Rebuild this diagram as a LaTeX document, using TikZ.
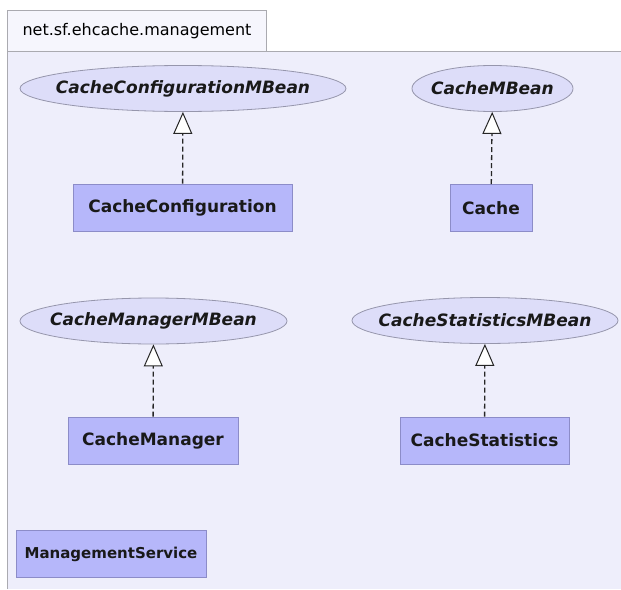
\documentclass[tikz,border=0pt]{standalone}
\usepackage{fontspec}
\setmainfont{DejaVu Sans}
\usetikzlibrary{shapes.geometric,arrows.meta}

\definecolor{pkgback}{RGB}{238,238,251}
\definecolor{pkgtab}{RGB}{246,246,253}
\definecolor{pkgline}{RGB}{170,170,176}
\definecolor{ifacefill}{RGB}{221,221,249}
\definecolor{ifaceline}{RGB}{150,150,172}
\definecolor{clsfill}{RGB}{182,183,250}
\definecolor{clsline}{RGB}{140,140,200}

% keeps the ellipse as wide as asked, not as wide as its text
\newcommand{\ifname}[1]{\makebox[0pt]{#1}}

\tikzset{
  iface/.style={ellipse, draw=ifaceline, fill=ifacefill, line width=0.8pt,
    minimum width=#1, minimum height=46, inner sep=2pt,
    font=\fontsize{17}{20}\selectfont\bfseries\itshape, text=black!90},
  cls/.style={rectangle, draw=clsline, fill=clsfill, line width=0.8pt,
    minimum width=#1, minimum height=47, inner sep=0pt,
    font=\fontsize{17}{20}\selectfont\bfseries, text=black!90},
  realize/.style={draw=black!85, line width=1.3pt, dash pattern=on 5pt off 3pt,
    -{Triangle[open, length=22pt, width=19pt, line width=1pt, fill=white]}}
}

\begin{document}
\begin{tikzpicture}[x=1pt, y=-1pt]
                \useasboundingbox (0,0) rectangle (621,589);
                % Package frame
                \fill[white] (0,0) rectangle (621,589);
                \fill[pkgback] (7,51) rectangle (621,589);
                \draw[pkgline, line width=1pt] (7,589) -- (7,51) -- (621,51);
                \node[draw=pkgline, fill=pkgtab, line width=1pt, minimum width=259, minimum height=41,
                  font=\fontsize{16}{18}\selectfont, anchor=north west] (pkg) at (7,10) {net.sf.ehcache.management};

                % Interfaces
                \node[iface=326] (cfgbean) at (183, 88.5) {\ifname{CacheConfigurationMBean}};
                \node[iface=161] (cachebean) at (492.5, 88.5) {\ifname{CacheMBean}};
                \node[iface=267] (mgrbean) at (153.5, 321) {\ifname{CacheManagerMBean}};
                \node[iface=266] (statsbean) at (485, 320.5) {\ifname{CacheStatisticsMBean}};

                % Classes
                \node[cls=219] (cfg) at (182.5, 207.5) {CacheConfiguration};
                \node[cls=82] (cache) at (491, 208) {Cache};
                \node[cls=170] (mgr) at (153, 440.5) {CacheManager};
                \node[cls=169] (stats) at (484.5, 440.5) {CacheStatistics};
                \node[cls=190, font=\fontsize{15}{18}\selectfont\bfseries] (svc) at (111, 554) {ManagementService};

                % Realizations
                \draw[realize] (cfg) -- (cfgbean);
                \draw[realize] (cache) -- (cachebean);
                \draw[realize] (mgr) -- (mgrbean);
                \draw[realize] (stats) -- (statsbean);
            \end{tikzpicture}
\end{document}
